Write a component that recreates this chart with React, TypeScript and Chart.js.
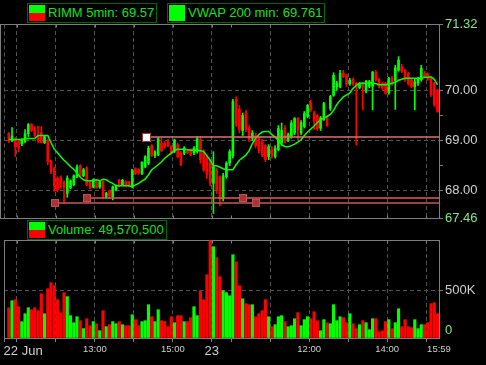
import React, { useEffect, useRef } from 'react';
import { Chart, registerables } from 'chart.js';

Chart.register(...registerables);

// ---------- data (5-minute bars, 22 Jun 10:45 .. 23 Jun) ----------
const openP = [
  69.14, 69.00, 69.03, 68.98, 68.93, 68.98, 69.14, 69.32, 69.25, 69.09,
  69.16, 68.96, 69.00, 68.60, 68.45, 68.25, 68.26, 68.18, 67.95, 68.06,
  68.12, 68.28, 68.50, 68.30, 68.46, 68.18, 68.08, 68.18, 68.07, 68.18,
  67.88, 68.00, 67.88, 68.02, 68.21, 68.12, 68.18, 68.18, 68.10, 68.44,
  68.42, 68.34, 68.48, 68.55, 68.90, 68.70, 68.72, 68.95, 68.95, 68.98,
  68.88, 68.78, 68.92, 68.75, 68.75, 68.79, 68.82, 68.75, 68.78, 69.02,
  68.80, 68.65, 68.58, 68.15, 68.42, 68.28, 67.85, 68.28, 68.55, 68.70,
  69.82, 69.62, 69.20, 69.55, 69.25, 69.05, 69.10, 69.05, 68.98, 68.90,
  68.68, 68.82, 68.68, 68.82, 68.95, 69.25, 69.00, 69.08, 69.15, 69.44,
  69.15, 69.28, 69.48, 69.74, 69.55, 69.50, 69.25, 69.42, 69.48, 69.64,
  69.90, 70.07, 70.07, 70.34, 70.30, 70.13, 70.22, 70.14, 70.05, 70.14,
  69.98, 70.08, 70.08, 70.36, 70.21, 70.14, 70.14, 69.95, 70.24, 70.20,
  70.40, 70.47, 70.40, 70.34, 70.21, 70.07, 70.14, 70.21, 70.34, 70.32,
  70.24, 70.14, 70.00,
];
const highP = [
  69.16, 69.26, 69.06, 69.00, 69.04, 69.22, 69.34, 69.34, 69.28, 69.29,
  69.28, 69.10, 69.03, 68.61, 68.47, 68.28, 68.30, 68.20, 68.30, 68.22,
  68.32, 68.52, 68.52, 68.45, 68.48, 68.20, 68.24, 68.20, 68.20, 68.20,
  67.97, 68.02, 68.10, 68.12, 68.23, 68.23, 68.20, 68.19, 68.43, 68.46,
  68.44, 68.58, 68.70, 68.89, 68.92, 68.80, 69.06, 69.05, 68.98, 69.02,
  68.90, 69.03, 68.95, 68.78, 68.88, 68.82, 68.84, 68.88, 69.08, 69.08,
  68.82, 68.70, 68.62, 68.78, 68.45, 68.30, 68.35, 68.58, 68.82, 69.82,
  69.87, 69.70, 69.55, 69.60, 69.30, 69.20, 69.15, 69.08, 69.02, 68.92,
  68.92, 68.88, 68.90, 69.30, 69.35, 69.30, 69.15, 69.40, 69.46, 69.46,
  69.40, 69.58, 69.72, 69.80, 69.58, 69.52, 69.48, 69.76, 69.50, 69.90,
  70.35, 70.18, 70.40, 70.40, 70.32, 70.24, 70.25, 70.16, 70.16, 70.16,
  70.20, 70.20, 70.38, 70.40, 70.24, 70.16, 70.16, 70.26, 70.28, 70.50,
  70.67, 70.52, 70.42, 70.36, 70.24, 70.24, 70.26, 70.50, 70.38, 70.35,
  70.26, 70.16, 70.02,
];
const lowP = [
  68.96, 68.98, 68.68, 68.78, 68.90, 68.96, 69.08, 69.18, 69.08, 68.96,
  68.95, 68.94, 68.52, 68.34, 67.99, 67.98, 68.05, 67.75, 67.87, 68.04,
  68.10, 68.26, 68.28, 68.28, 68.10, 68.04, 68.06, 68.05, 68.05, 67.86,
  67.86, 67.85, 67.82, 68.00, 68.08, 68.10, 68.08, 68.08, 68.06, 68.32,
  68.33, 68.32, 68.46, 68.52, 68.68, 68.66, 68.70, 68.78, 68.85, 68.88,
  68.72, 68.76, 68.66, 68.50, 68.72, 68.74, 68.70, 68.72, 68.75, 68.55,
  68.38, 68.25, 68.10, 67.55, 67.95, 67.70, 67.80, 68.25, 68.50, 68.65,
  69.28, 69.15, 69.10, 69.18, 68.98, 69.00, 68.85, 68.75, 68.68, 68.58,
  68.62, 68.65, 68.65, 68.80, 68.90, 68.95, 68.98, 69.05, 69.12, 69.01,
  69.12, 69.25, 69.45, 69.58, 69.22, 69.20, 69.20, 69.40, 69.28, 69.60,
  69.88, 70.00, 70.05, 70.25, 70.08, 70.10, 70.10, 68.91, 70.03, 69.61,
  69.95, 70.05, 69.61, 70.18, 70.05, 70.02, 69.92, 69.92, 70.10, 69.62,
  70.38, 70.35, 70.18, 70.10, 70.05, 69.61, 70.10, 70.18, 70.25, 70.20,
  69.88, 69.68, 69.57,
];
const closeP = [
  69.04, 69.09, 68.88, 68.85, 69.02, 69.14, 69.32, 69.20, 69.10, 69.00,
  68.96, 69.08, 68.58, 68.38, 68.10, 68.02, 68.13, 68.08, 68.25, 68.20,
  68.30, 68.48, 68.30, 68.42, 68.12, 68.06, 68.22, 68.06, 68.18, 67.90,
  67.95, 67.90, 68.08, 68.10, 68.10, 68.21, 68.10, 68.10, 68.42, 68.34,
  68.36, 68.57, 68.68, 68.85, 68.70, 68.78, 69.04, 68.80, 68.88, 68.90,
  68.75, 69.01, 68.68, 68.52, 68.85, 68.76, 68.72, 68.85, 69.04, 68.62,
  68.42, 68.32, 68.15, 68.48, 68.02, 67.85, 68.30, 68.55, 68.78, 69.78,
  69.32, 69.22, 69.50, 69.22, 69.02, 69.15, 68.90, 68.80, 68.72, 68.62,
  68.88, 68.70, 68.85, 69.24, 69.20, 69.00, 69.12, 69.35, 69.44, 69.21,
  69.36, 69.54, 69.70, 69.62, 69.40, 69.24, 69.45, 69.74, 69.30, 69.88,
  70.30, 70.14, 70.34, 70.27, 70.12, 70.20, 70.12, 70.05, 70.14, 70.08,
  70.18, 70.17, 70.36, 70.21, 70.07, 70.05, 69.94, 70.24, 70.15, 70.45,
  70.60, 70.38, 70.21, 70.14, 70.07, 70.17, 70.24, 70.44, 70.27, 70.22,
  69.91, 69.72, 69.57,
];
const vwap = [
  69.02, 69.02, 69.02, 69.02, 69.02, 69.04, 69.04, 69.04, 69.04, 69.10,
  69.10, 69.10, 69.10, 68.96, 68.83, 68.76, 68.68, 68.61, 68.55, 68.48,
  68.43, 68.35, 68.27, 68.22, 68.20, 68.20, 68.20, 68.22, 68.20, 68.23,
  68.22, 68.18, 68.15, 68.10, 68.10, 68.10, 68.10, 68.10, 68.08, 68.12,
  68.15, 68.20, 68.23, 68.32, 68.42, 68.47, 68.52, 68.58, 68.65, 68.70,
  68.75, 68.80, 68.83, 68.83, 68.83, 68.82, 68.81, 68.81, 68.81, 68.80,
  68.78, 68.70, 68.61, 68.50, 68.50, 68.47, 68.44, 68.42, 68.42, 68.42,
  68.52, 68.61, 68.66, 68.71, 68.80, 68.94, 69.05, 69.12, 69.17, 69.18,
  69.18, 69.12, 69.07, 69.01, 68.92, 68.88, 68.88, 68.90, 68.93, 68.97,
  69.02, 69.10, 69.17, 69.23, 69.29, 69.36, 69.41, 69.45, 69.48, 69.52,
  69.60, 69.72, 69.80, 69.87, 69.91, 69.95, 70.04, 70.10, 70.14, 70.14,
  70.14, 70.15, 70.15, 70.13, 70.11, 70.11, 70.11, 70.12, 70.14, 70.16,
  70.20, 70.22, 70.24, 70.24, 70.24, 70.24, 70.24, 70.24, 70.26, 70.26,
  70.27, 70.22, 70.11,
];
const volumeK = [
  320, 394, 405, 331, 173, 257, 320, 299, 320, 289,
  468, 257, 521, 585, 553, 405, 268, 479, 437, 236,
  162, 225, 183, 99, 204, 130, 173, 151, 77, 289,
  120, 141, 173, 151, 173, 141, 130, 130, 246, 194,
  130, 173, 183, 352, 225, 173, 299, 183, 173, 120,
  225, 162, 236, 236, 173, 173, 215, 331, 236, 500,
  405, 669, 1028, 965, 849, 648, 500, 479, 447, 880,
  806, 553, 415, 363, 352, 352, 225, 257, 289, 405,
  225, 120, 141, 225, 236, 173, 120, 130, 204, 268,
  130, 194, 225, 204, 278, 183, 77, 194, 162, 151,
  352, 183, 225, 215, 162, 257, 151, 99, 141, 183,
  162, 88, 204, 204, 67, 77, 173, 194, 99, 162,
  310, 120, 194, 120, 109, 194, 99, 141, 141, 162,
  363, 373, 257,
];

// axis ranges and ticks
const priceMin = 67.46;
const priceMax = 71.32;
const priceTicks = [67.46, 68, 68.5, 69, 69.5, 70, 71.32];
const priceLabelled = [67.46, 68, 69, 70, 71.32];
const priceGridY = [68, 69, 70];
const priceEdge = [67.46, 71.32];
const volMax = 1036000;
const volTicks = [0, 500000];
const xMin = -1.48;
const xMax = 132.46;
const hourGrid = [2.5, 14.5, 26.5, 38.5, 50.5, 62.5, 80.5, 92.5, 104.5, 116.5, 128.5];
const axisMarks = [-1.48, 2.5, 14.5, 26.5, 38.5, 50.5, 62.5, 68.5, 80.5, 92.5, 104.5, 116.5, 128.5];
const xLabelPos = [4.4, 26.5, 50.5, 62.5, 92.5, 116.5, 132.46];
const xLabels = ['22 Jun', '13:00', '15:00', '23', '12:00', '14:00', '15:59'];
const bigLabels = ['22 Jun', '23'];

// horizontal level lines and markers
const levelPrices = [69.07, 67.86, 67.76];
const levelStart = [42.2, 24.1, 14.2];
const markerBar = [42.2, 24.1, 72.1, 14.2, 76.1];
const markerPrice = [69.07, 67.86, 67.86, 67.76, 67.76];
const markerWhite = [true, false, false, false, false];

// ---------- styles ----------
const FONT = '"Liberation Sans", Arial, sans-serif';
const UP = '#00ff00';
const DOWN = '#ff0000';
const GRID = '#525252';
const FRAME = '#7e7e7e';
const AXIS_TEXT = '#d0d0d0';
const EDGE_TEXT = '#86e886';
const LEVEL_COLORS = ['#e07272', '#e35c5c', '#c85858'];
const LEGEND_TEXT = '#18e018';

const W = 486;
const H = 365;
const PRICE_H = 230;
const VOL_TOP = 230;
const VOL_H = H - VOL_TOP;

const priceDecor = {
  id: 'priceDecor',
  beforeDatasetsDraw(chart: any) {
    const { ctx, chartArea: a, scales } = chart;
    const xs = scales.x;
    ctx.save();
    ctx.lineWidth = 1;
    ctx.strokeStyle = FRAME;
    const top = a.top + 0.5;
    const bot = a.bottom + 0.5;
    ctx.beginPath();
    ctx.moveTo(0, top);
    ctx.lineTo(a.right, top);
    ctx.moveTo(0, bot);
    ctx.lineTo(a.right, bot);
    ctx.moveTo(0.5, top);
    ctx.lineTo(0.5, bot);
    axisMarks.forEach((v) => {
      const px = Math.round(xs.getPixelForValue(v)) + 0.5;
      ctx.moveTo(px, top);
      ctx.lineTo(px, top + 3);
      ctx.moveTo(px, bot);
      ctx.lineTo(px, bot - 3);
    });
    ctx.stroke();
    ctx.strokeStyle = GRID;
    ctx.setLineDash([4, 3]);
    ctx.beginPath();
    const lx = Math.round(xs.getPixelForValue(xMin)) + 0.5;
    ctx.moveTo(lx, top);
    ctx.lineTo(lx, bot);
    ctx.stroke();
    ctx.restore();
  },
  afterDatasetsDraw(chart: any) {
    const { ctx, chartArea: a, scales } = chart;
    const xs = scales.x;
    const ys = scales.y;
    ctx.save();
    ctx.lineWidth = 1.5;
    levelPrices.forEach((p, i) => {
      const y = ys.getPixelForValue(p);
      const x0 = xs.getPixelForValue(levelStart[i]);
      ctx.strokeStyle = LEVEL_COLORS[i];
      ctx.beginPath();
      ctx.moveTo(x0, y);
      ctx.lineTo(a.right, y);
      ctx.stroke();
    });
    ctx.lineWidth = 1;
    markerBar.forEach((b, i) => {
      const cx = Math.round(xs.getPixelForValue(b));
      const cy = Math.round(ys.getPixelForValue(markerPrice[i]));
      if (markerWhite[i]) {
        ctx.fillStyle = '#ffffff';
        ctx.strokeStyle = '#a03838';
        ctx.fillRect(cx - 3, cy - 3, 7, 7);
        ctx.strokeRect(cx - 3.5, cy - 3.5, 8, 8);
      } else {
        ctx.fillStyle = '#a63636';
        ctx.strokeStyle = '#c24e4e';
        ctx.fillRect(cx - 4, cy - 4, 8, 8);
        ctx.strokeRect(cx - 3.5, cy - 3.5, 7, 7);
      }
    });
    ctx.restore();
  },
};

const volDecor = {
  id: 'volDecor',
  beforeDatasetsDraw(chart: any) {
    const { ctx, chartArea: a, scales } = chart;
    const xs = scales.x;
    ctx.save();
    ctx.lineWidth = 1;
    ctx.strokeStyle = FRAME;
    const top = a.top + 0.5;
    const lx = Math.round(a.left) + 0.5;
    ctx.beginPath();
    ctx.moveTo(a.left, top);
    ctx.lineTo(a.right, top);
    ctx.moveTo(lx, top);
    ctx.lineTo(lx, a.bottom);
    axisMarks.forEach((v) => {
      const px = Math.round(xs.getPixelForValue(v)) + 0.5;
      ctx.moveTo(px, top);
      ctx.lineTo(px, top + 3);
    });
    ctx.stroke();
    ctx.restore();
  },
};

function Legend(props: { left: number; top: number; twoTone: boolean; text: string }) {
  return (
    <div
      style={{
        position: 'absolute',
        left: props.left,
        top: props.top,
        height: 20,
        boxSizing: 'border-box',
        border: '1px solid #006a00',
        display: 'flex',
        alignItems: 'center',
        paddingLeft: 1,
        paddingRight: 2,
        background: '#000',
        whiteSpace: 'nowrap',
      }}
    >
      <div
        style={{
          width: 16,
          height: 16,
          marginRight: 3,
          background: props.twoTone ? `linear-gradient(${UP} 0 50%, ${DOWN} 50% 100%)` : UP,
        }}
      />
      <span
        style={{
          fontFamily: FONT,
          fontSize: 13,
          lineHeight: '16px',
          color: LEGEND_TEXT,
        }}
      >
        {props.text}
      </span>
    </div>
  );
}

export default function App() {
  const priceRef = useRef<HTMLCanvasElement>(null);
  const volRef = useRef<HTMLCanvasElement>(null);

  useEffect(() => {
    document.body.style.margin = '0';
    document.body.style.background = '#000';
    const idx = closeP.map((_, i) => i);
    const colors = idx.map((i) => (closeP[i] >= openP[i] ? UP : DOWN));
    const tv = (c: any) => (c && c.tick ? c.tick.value : undefined);

    const priceChart = new Chart(priceRef.current as HTMLCanvasElement, {
      type: 'bar',
      data: {
        datasets: [
          {
            type: 'line',
            label: 'VWAP',
            data: idx.map((i) => ({ x: i, y: vwap[i] })),
            borderColor: UP,
            borderWidth: 1.5,
            pointRadius: 0,
            tension: 0,
            order: 0,
          } as any,
          {
            label: 'body',
            data: idx.map((i) => ({ x: i, y: [openP[i], closeP[i]] })),
            backgroundColor: colors,
            barThickness: 2,
            grouped: false,
            minBarLength: 1,
            order: 1,
          } as any,
          {
            label: 'wick',
            data: idx.map((i) => ({ x: i, y: [lowP[i], highP[i]] })),
            backgroundColor: colors,
            barThickness: 1,
            grouped: false,
            order: 2,
          } as any,
        ],
      },
      options: {
        responsive: false,
        animation: false,
        devicePixelRatio: 1,
        events: [],
        layout: { padding: { left: 4, top: 24, right: 0, bottom: PRICE_H - 218 } },
        plugins: { legend: { display: false }, tooltip: { enabled: false } },
        scales: {
          x: {
            type: 'linear',
            min: xMin,
            max: xMax,
            bounds: 'data',
            offset: false,
            grid: {
              offset: false,
              drawTicks: false,
              lineWidth: 1,
              color: (c: any) => (hourGrid.includes(tv(c)) ? GRID : 'rgba(0,0,0,0)'),
            },
            border: { display: false, dash: [4, 3] },
            ticks: { display: false, autoSkip: false },
            afterBuildTicks: (s: any) => {
              s.ticks = hourGrid.map((v) => ({ value: v }));
            },
            afterFit: (s: any) => {
              s.height = 0;
            },
          },
          y: {
            type: 'linear',
            position: 'right',
            min: priceMin,
            max: priceMax,
            bounds: 'data',
            beginAtZero: false,
            grid: {
              color: (c: any) => (priceGridY.includes(tv(c)) ? GRID : 'rgba(0,0,0,0)'),
              drawTicks: true,
              tickLength: 4,
              tickColor: FRAME,
            },
            border: { display: true, color: FRAME, dash: [4, 3] },
            ticks: {
              autoSkip: false,
              padding: 2,
              font: { family: FONT, size: 13 },
              color: (c: any) => (priceEdge.includes(tv(c)) ? EDGE_TEXT : AXIS_TEXT),
              callback: (v: any) => (priceLabelled.includes(v) ? Number(v).toFixed(2) : ''),
            },
            afterBuildTicks: (s: any) => {
              s.ticks = priceTicks.map((v) => ({ value: v }));
            },
            afterFit: (s: any) => {
              s.width = W - 439;
            },
          },
        },
      } as any,
      plugins: [priceDecor],
    });

    const xTickVals = Array.from(new Set([...axisMarks, ...xLabelPos])).sort((a, b) => a - b);

    const volChart = new Chart(volRef.current as HTMLCanvasElement, {
      type: 'bar',
      data: {
        datasets: [
          {
            label: 'Volume',
            data: idx.map((i) => ({ x: i, y: volumeK[i] * 1000 })),
            backgroundColor: colors,
            barThickness: 2.5,
            grouped: false,
          } as any,
        ],
      },
      options: {
        responsive: false,
        animation: false,
        devicePixelRatio: 1,
        events: [],
        layout: { padding: { left: 4, top: 240 - VOL_TOP, right: 0, bottom: 0 } },
        plugins: { legend: { display: false }, tooltip: { enabled: false } },
        scales: {
          x: {
            type: 'linear',
            min: xMin,
            max: xMax,
            bounds: 'data',
            offset: false,
            grid: {
              offset: false,
              drawTicks: true,
              tickLength: 4,
              lineWidth: 1,
              color: (c: any) => (hourGrid.includes(tv(c)) ? GRID : 'rgba(0,0,0,0)'),
              tickColor: (c: any) => (axisMarks.includes(tv(c)) ? FRAME : 'rgba(0,0,0,0)'),
            },
            border: { display: true, color: FRAME, dash: [4, 3] },
            ticks: {
              autoSkip: false,
              maxRotation: 0,
              minRotation: 0,
              padding: 2,
              color: AXIS_TEXT,
              font: (c: any) => {
                const k = xLabelPos.indexOf(tv(c));
                const big = k >= 0 && bigLabels.includes(xLabels[k]);
                return { family: FONT, size: big ? 13 : 9.5 };
              },
              callback: (v: any) => {
                const k = xLabelPos.indexOf(v);
                return k >= 0 ? xLabels[k] : '';
              },
            },
            afterBuildTicks: (s: any) => {
              s.ticks = xTickVals.map((v) => ({ value: v }));
            },
            afterFit: (s: any) => {
              s.height = H - 338;
            },
          },
          y: {
            type: 'linear',
            position: 'right',
            min: 0,
            max: volMax,
            bounds: 'data',
            grid: {
              color: (c: any) => (tv(c) === 500000 ? GRID : 'rgba(0,0,0,0)'),
              drawTicks: true,
              tickLength: 4,
              tickColor: (c: any) => (tv(c) === 500000 ? FRAME : 'rgba(0,0,0,0)'),
            },
            border: { display: true, color: FRAME, dash: [4, 3] },
            ticks: {
              autoSkip: false,
              padding: 2,
              font: { family: FONT, size: 13 },
              color: (c: any) => (tv(c) === 0 ? EDGE_TEXT : AXIS_TEXT),
              callback: (v: any) => (v === 0 ? ['0', ''] : Math.round(v / 1000) + 'K'),
            },
            afterBuildTicks: (s: any) => {
              s.ticks = volTicks.map((v) => ({ value: v }));
            },
            afterFit: (s: any) => {
              s.width = W - 439;
            },
          },
        },
      } as any,
      plugins: [volDecor],
    });

    return () => {
      priceChart.destroy();
      volChart.destroy();
    };
  }, []);

  return (
    <div
      style={{
        position: 'fixed',
        left: 0,
        top: 0,
        width: W,
        height: H,
        background: '#000',
        overflow: 'hidden',
      }}
    >
      <canvas
        ref={priceRef}
        width={W}
        height={PRICE_H}
        style={{ position: 'absolute', left: 0, top: 0, width: W, height: PRICE_H }}
      />
      <canvas
        ref={volRef}
        width={W}
        height={VOL_H}
        style={{ position: 'absolute', left: 0, top: VOL_TOP, width: W, height: VOL_H }}
      />
      <Legend left={27} top={3} twoTone={true} text="RIMM 5min: 69.57" />
      <Legend left={167} top={3} twoTone={false} text="VWAP 200 min: 69.761" />
      <Legend left={27} top={220} twoTone={true} text="Volume: 49,570,500" />
    </div>
  );
}
